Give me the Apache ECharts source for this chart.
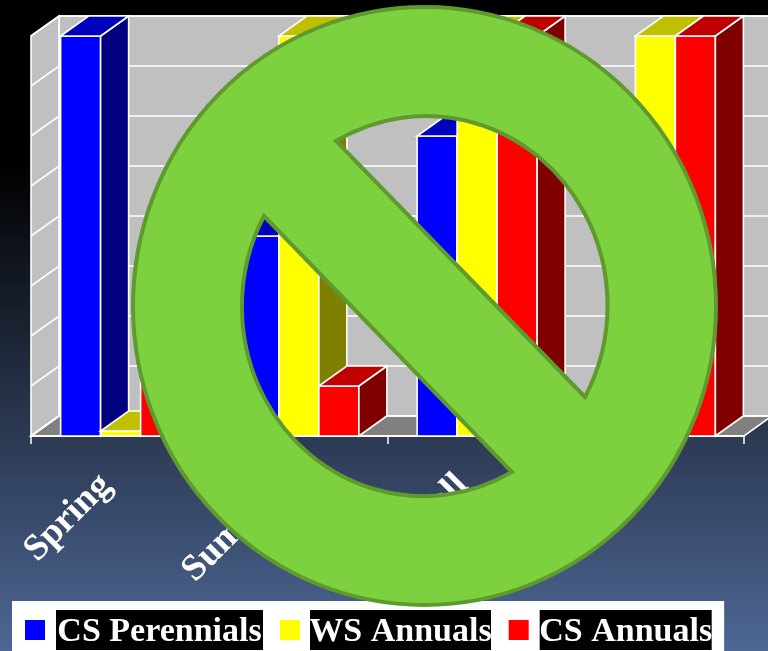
<!DOCTYPE html>
<html>
<head>
<meta charset="utf-8">
<style>html,body{margin:0;padding:0;background:#000}#c{width:768px;height:651px}</style>
<script src="https://cdn.jsdelivr.net/npm/echarts@6/dist/echarts.min.js"></script>
</head>
<body>
<div id="c"></div>
<script>
const categories = ['Spring', 'Summer', 'Fall', 'Winter'];
const csPerennials = [100, 50, 75, 5];
const wsAnnuals = [1.25, 100, 100, 100];
const csAnnuals = [50, 12.5, 100, 100];
const gridValues = [0, 12.5, 25, 37.5, 50, 62.5, 75, 87.5, 100];

const DX = 28, DY = -20, LINE = '#ffffff', LW = 1.6;
const BAR_RATIO = 40 / 178.25;
const BAR_SHIFT = 0.5;

function poly(points, fill) {
  return { type: 'polygon', shape: { points }, style: { fill, stroke: LINE, lineWidth: LW, lineJoin: 'miter' } };
}
function bar3d(offset, front, top, side) {
  return function (params, api) {
    const catW = api.size([1, 0])[0];
    const w = catW * BAR_RATIO;
    const p = api.coord([api.value(0), api.value(1)]);
    const base = api.coord([api.value(0), 0]);
    const x0 = p[0] + BAR_SHIFT + (offset - 0.5) * w, x1 = x0 + w;
    const yT = p[1], yB = base[1];
    return {
      type: 'group',
      children: [
        poly([[x0, yB], [x1, yB], [x1, yT], [x0, yT]], front),
        poly([[x1, yB], [x1 + DX, yB + DY], [x1 + DX, yT + DY], [x1, yT]], side),
        poly([[x0, yT], [x1, yT], [x1 + DX, yT + DY], [x0 + DX, yT + DY]], top)
      ]
    };
  };
}
function wall(params, api) {
  const o = api.coord([0, 0]);
  const t = api.coord([0, 100]);
  const xL = params.coordSys.x, xR = xL + params.coordSys.width;
  const yB = o[1], yT = t[1];
  const kids = [
    poly([[xL + DX, yB + DY], [xR + DX, yB + DY], [xR + DX, yT + DY], [xL + DX, yT + DY]], '#c0c0c0'),
    poly([[xL, yB], [xL + DX, yB + DY], [xL + DX, yT + DY], [xL, yT]], '#c0c0c0'),
    poly([[xL, yB], [xL + DX, yB + DY], [xR + DX, yB + DY], [xR, yB]], '#808080')
  ];
  gridValues.forEach(v => {
    const y = api.coord([0, v])[1];
    kids.push({ type: 'polyline', shape: { points: [[xL, y], [xL + DX, y + DY], [xR + DX, y + DY]] },
      style: { fill: null, stroke: LINE, lineWidth: LW } });
  });
  return { type: 'group', children: kids };
}
const signPath =
  'M133 306A291.5 299 0 1 0 716 306A291.5 299 0 1 0 133 306Z' +
  'M264 216L512 472A181.5 189.5 0 0 1 264 216Z' +
  'M585 397L336 141A181.5 189.5 0 0 1 585 397Z';
function sign() {
  return {
    type: 'path',
    shape: { pathData: signPath, layout: 'cover', x: 133, y: 7, width: 583, height: 598 },
    style: { fill: '#7dd13e', stroke: '#5f9a2e', lineWidth: 4, lineJoin: 'miter' }
  };
}
function barSeries(name, values, offset, front, top, side) {
  return {
    type: 'custom', name, z: 3,
    itemStyle: { color: front },
    encode: { x: 0, y: 1 },
    data: values.map((v, i) => [i, v]),
    renderItem: bar3d(offset, front, top, side),
    silent: true
  };
}
const legendNames = ['CS Perennials', 'WS Annuals', 'CS Annuals'];
const legendFont = { color: '#fff', backgroundColor: '#000', fontFamily: 'Liberation Serif', fontWeight: 'bold', fontSize: 34, height: 35, lineHeight: 35, padding: [5, 0, 0, 0], align: 'center' };

const chart = echarts.init(document.getElementById('c'), null, { renderer: 'canvas' });
chart.setOption({
  animation: false,
  backgroundColor: {
    type: 'linear', x: 0, y: 0, x2: 0, y2: 1,
    colorStops: [{ offset: 0, color: '#000000' }, { offset: 0.25, color: '#000000' }, { offset: 1, color: '#4e6794' }]
  },
  grid: { left: 31, right: 24, top: 36, bottom: 215, containLabel: false },
  xAxis: {
    type: 'category', data: categories,
    axisLine: { show: true, lineStyle: { color: '#fff', width: 2 } },
    axisTick: { show: true, alignWithLabel: false, length: 8, lineStyle: { color: '#fff', width: 1.5 } },
    axisLabel: { rotate: 45, margin: 30, padding: [0, 20, 0, 0], color: '#fff', fontFamily: 'Liberation Serif', fontWeight: 'bold', fontSize: 37, interval: 0 },
    z: 2.5
  },
  yAxis: { type: 'value', min: 0, max: 100, interval: 12.5, show: false, splitLine: { show: false } },
  legend: {
    data: legendNames,
    left: 12, top: 601,
    padding: [9, 12, 9, 13],
    backgroundColor: '#ffffff',
    itemWidth: 20, itemHeight: 20, itemGap: 17,
    icon: 'rect',
    selectedMode: false,
    formatter: n => {
      const i = legendNames.indexOf(n);
      return '{s' + (i === 1 ? 'b' : 'a') + '|}{t' + i + '|' + n + '}';
    },
    textStyle: {
      rich: {
        sa: { width: 6 },
        sb: { width: 5 },
        t0: Object.assign({ width: 207 }, legendFont),
        t1: Object.assign({ width: 181 }, legendFont),
        t2: Object.assign({ width: 172 }, legendFont)
      }
    }
  },
  series: [
    { type: 'custom', name: 'walls', z: 1, silent: true, data: [[0, 0]], encode: { x: 0, y: 1 }, renderItem: wall },
    barSeries('CS Perennials', csPerennials, -1, '#0000ff', '#0000c0', '#000080'),
    barSeries('WS Annuals', wsAnnuals, 0, '#ffff00', '#c0c000', '#808000'),
    barSeries('CS Annuals', csAnnuals, 1, '#ff0000', '#c00000', '#800000'),
    { type: 'custom', name: 'prohibition sign', z: 10, silent: true, data: [[0, 0]], encode: { x: 0, y: 1 }, renderItem: sign }
  ]
});
</script>
</body>
</html>
